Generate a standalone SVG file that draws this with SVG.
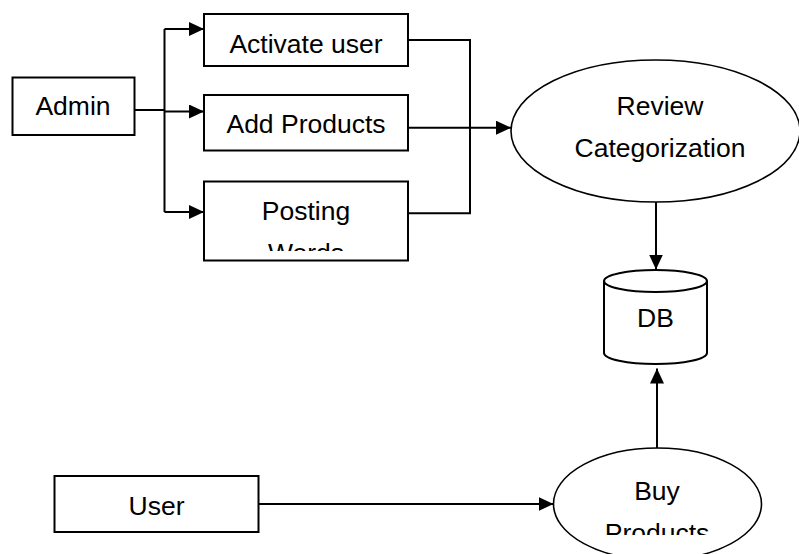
<svg xmlns="http://www.w3.org/2000/svg" width="799" height="554" viewBox="0 0 799 554">
<style>
.box{fill:#fff;stroke:#000;stroke-width:2}
.ell{fill:#fff;stroke:#000;stroke-width:1.6}
.t{font-family:"Liberation Sans",Arial,sans-serif;font-size:26.5px;fill:#000;text-anchor:middle}
.c{fill:none;stroke:#000;stroke-width:2}
</style>
<defs>
<marker id="ah" markerUnits="userSpaceOnUse" markerWidth="16" markerHeight="14" refX="15" refY="7" orient="auto">
<path d="M0,0 L15,7 L0,14 z" fill="#000"/>
</marker>
<clipPath id="clipPost"><rect x="204" y="181" width="205" height="70"/></clipPath>
<clipPath id="clipBuy"><rect x="553" y="448" width="210" height="87"/></clipPath>
</defs>
<rect width="799" height="554" fill="#fff"/>
<g id="connectors">
<polyline class="c" points="135,110 164.5,110"/>
<polyline class="c" points="164.5,29 164.5,212"/>
<line class="c" x1="164.5" y1="29" x2="204" y2="29" marker-end="url(#ah)"/>
<line class="c" x1="164.5" y1="111.5" x2="204" y2="111.5" marker-end="url(#ah)"/>
<line class="c" x1="164.5" y1="212" x2="204" y2="212" marker-end="url(#ah)"/>
<polyline class="c" points="406,40 470,40 470,213.3 406,213.3"/>
<line class="c" x1="406" y1="127.7" x2="511" y2="127.7" marker-end="url(#ah)"/>
<line class="c" x1="656" y1="202" x2="656" y2="269.5" marker-end="url(#ah)"/>
<line class="c" x1="657" y1="448" x2="657" y2="368.5" marker-end="url(#ah)"/>
<line class="c" x1="258" y1="504" x2="553.5" y2="504" marker-end="url(#ah)"/>
</g>
<g id="admin">
<rect class="box" x="12.5" y="77.5" width="122" height="57.5"/>
<text class="t" x="73" y="115">Admin</text>
</g>
<g id="activate-user">
<rect class="box" x="204" y="14" width="204" height="52"/>
<text class="t" x="306" y="53.3">Activate user</text>
</g>
<g id="add-products">
<rect class="box" x="204" y="95" width="204" height="55.5"/>
<text class="t" x="306" y="133.3">Add Products</text>
</g>
<g id="posting-words">
<rect class="box" x="204" y="181.5" width="204" height="79"/>
<g clip-path="url(#clipPost)">
<text class="t" x="306" y="220">Posting</text>
<text class="t" x="306" y="261.5">Words</text>
</g>
</g>
<g id="review-categorization">
<ellipse class="ell" cx="655.5" cy="131" rx="144.5" ry="71"/>
<text class="t" x="660" y="115">Review</text>
<text class="t" x="660" y="156.7">Categorization</text>
</g>
<g id="db">
<path class="box" d="M604,281 L604,353 A51.5,11 0 0 0 707,353 L707,281"/>
<ellipse class="box" cx="655.5" cy="281" rx="51.5" ry="11"/>
<text class="t" x="655.5" y="326.7">DB</text>
</g>
<g id="user">
<rect class="box" x="54.5" y="476" width="204" height="56"/>
<text class="t" x="156.5" y="515">User</text>
</g>
<g id="buy-products">
<ellipse class="ell" cx="657.5" cy="504" rx="104" ry="56"/>
<g clip-path="url(#clipBuy)">
<text class="t" x="657" y="499.5">Buy</text>
<text class="t" x="657" y="541.5">Products</text>
</g>
</g>
</svg>
